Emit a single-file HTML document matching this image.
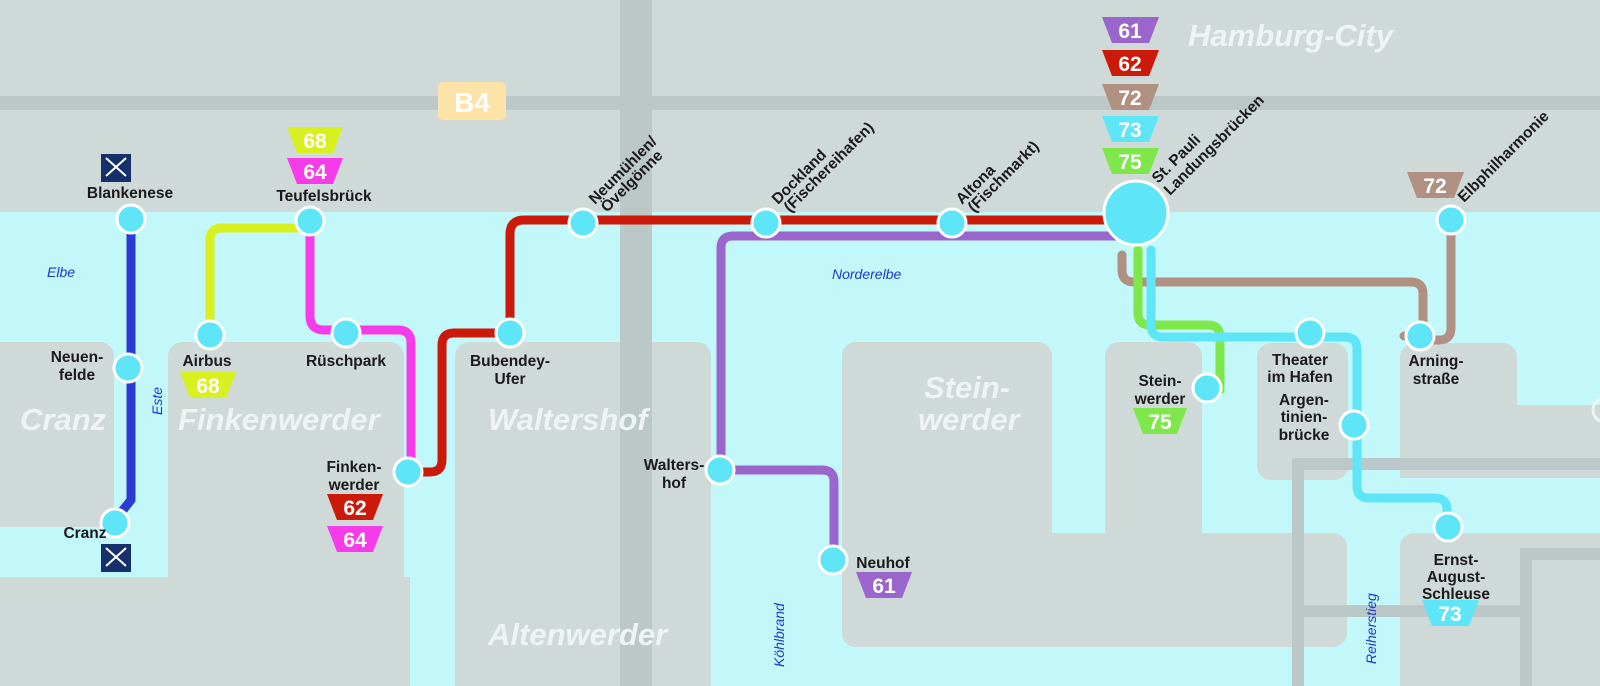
<!DOCTYPE html>
<html><head><meta charset="utf-8"><style>
html,body{margin:0;padding:0;width:1600px;height:686px;overflow:hidden;background:#cfd9d8}
svg{display:block;position:absolute;left:0;top:0}
.st{font:bold 15.5px "Liberation Sans",sans-serif;fill:#1a1a1a}
.pl{font:bold italic 31px "Liberation Sans",sans-serif;fill:#eef3f3}
.wl{font:italic 14px "Liberation Sans",sans-serif;fill:#1a3acc}
.bd{font:bold 21px "Liberation Sans",sans-serif;fill:#fff}
</style></head><body>
<svg width="1600" height="686" viewBox="0 0 1600 686" xmlns="http://www.w3.org/2000/svg">
<rect x="0" y="212" width="1600" height="474" fill="#c2f8fa"/>
<g fill="#cfd9d8">
<rect x="-20" y="342" width="134" height="185" rx="14"/>
<rect x="168" y="342" width="236" height="400" rx="14"/>
<rect x="-20" y="577" width="430" height="120"/>
<rect x="455" y="342" width="256" height="400" rx="14"/>
<rect x="842" y="342" width="210" height="305" rx="14"/>
<rect x="842" y="533" width="505" height="114" rx="14"/>
<rect x="1105" y="342" width="97" height="210" rx="14"/>
<rect x="1257" y="343" width="91" height="137" rx="14"/>
<rect x="1400" y="343" width="117" height="135" rx="14"/>
<rect x="1400" y="405" width="220" height="73"/>
<rect x="1400" y="533" width="220" height="170" rx="14"/>
</g>
<g fill="#bcc8c7">
<rect x="0" y="96" width="1600" height="14"/>
<rect x="620" y="0" width="32" height="686"/>
<rect x="1292" y="458" width="12" height="228"/>
<rect x="1292" y="458" width="308" height="12"/>
<rect x="1303" y="605" width="217" height="12"/>
<rect x="1520" y="548" width="12" height="138"/>
<rect x="1520" y="548" width="80" height="12"/>
</g>
<circle cx="1605" cy="410" r="12" fill="none" stroke="#eef3f3" stroke-width="3"/>
<rect x="438" y="82" width="68" height="38" rx="5" fill="#fde3a8"/>
<text x="472" y="112" text-anchor="middle" font-family="Liberation Sans" font-weight="bold" font-size="28" fill="#fff">B4</text>
<text class="pl" x="20" y="430">Cranz</text>
<text class="pl" x="178" y="430">Finkenwerder</text>
<text class="pl" x="488" y="430">Waltershof</text>
<text class="pl" x="924" y="398">Stein-</text>
<text class="pl" x="918" y="430">werder</text>
<text class="pl" x="488" y="645">Altenwerder</text>
<text class="pl" x="1188" y="46" font-size="28">Hamburg-City</text>
<text class="wl" x="47" y="277">Elbe</text>
<text class="wl" x="162" y="415" transform="rotate(-90 162 415)">Este</text>
<text class="wl" x="832" y="279">Norderelbe</text>
<text class="wl" x="784" y="667" transform="rotate(-90 784 667)">Köhlbrand</text>
<text class="wl" x="1376" y="664" transform="rotate(-90 1376 664)">Reiherstieg</text>
<g fill="none" stroke-width="9" stroke-linejoin="round" stroke-linecap="round">
<path d="M131 218 V500 L115 520" stroke="#2a3bd6"/>
<path d="M307 228 H222 Q210 228 210 240 V335" stroke="#d8f020"/>
<path d="M310 220 V316 Q310 330 324 330 H398 Q411 330 411 343 V472" stroke="#f53ce8"/>
<path d="M411 472 H430 Q442 472 442 460 V345 Q442 333 454 333 H510 V234 Q510 220 524 220 H1120" stroke="#cc1a0a"/>
<path d="M1120 236 H733 Q721 236 721 248 V470 H822 Q834 470 834 482 V558" stroke="#9a66cc"/>
<path d="M1122 255 V270 Q1122 282 1134 282 H1411 Q1423 282 1423 294 V326 Q1423 336 1412 336 H1404" stroke="#b09080"/>
<path d="M1451 220 V328 Q1451 340 1439 340 H1421" stroke="#b09080"/>
<path d="M1138 250 V313 Q1138 325 1150 325 H1208 Q1220 325 1220 337 V390" stroke="#7ee84a"/>
<path d="M1151 250 V325 Q1151 337 1163 337 H1345 Q1357 337 1357 349 V486 Q1357 498 1369 498 H1435 Q1447 498 1447 510 V528" stroke="#5ee6f8"/>
</g>
<g fill="#5fe5f8" stroke="#fff" stroke-width="3">
<circle cx="131" cy="219" r="14"/><circle cx="128" cy="368" r="14"/><circle cx="115" cy="523" r="14"/>
<circle cx="310" cy="221" r="14"/><circle cx="210" cy="335" r="14"/><circle cx="346" cy="333" r="14"/>
<circle cx="408" cy="472" r="14"/><circle cx="510" cy="333" r="14"/>
<circle cx="583" cy="223" r="14"/><circle cx="766" cy="223" r="14"/><circle cx="952" cy="223" r="14"/>
<circle cx="720" cy="470" r="14"/><circle cx="833" cy="560" r="14"/>
<circle cx="1207" cy="388" r="14"/><circle cx="1310" cy="333" r="14"/><circle cx="1354" cy="425" r="14"/>
<circle cx="1420" cy="336" r="14"/><circle cx="1451" cy="220" r="14"/><circle cx="1448" cy="527" r="14"/>
<circle cx="1136" cy="213" r="32"/>
</g>
<g>
<path d="M287 127 h56 l-10 26 h-36 z" fill="#d8f020"/><text class="bd" x="315" y="148" text-anchor="middle">68</text>
<path d="M287 158 h56 l-10 26 h-36 z" fill="#f53ce8"/><text class="bd" x="315" y="179" text-anchor="middle">64</text>
<path d="M180 372 h56 l-10 26 h-36 z" fill="#d8f020"/><text class="bd" x="208" y="393" text-anchor="middle">68</text>
<path d="M327 494 h56 l-10 26 h-36 z" fill="#cc1a0a"/><text class="bd" x="355" y="515" text-anchor="middle">62</text>
<path d="M327 526 h56 l-10 26 h-36 z" fill="#f53ce8"/><text class="bd" x="355" y="547" text-anchor="middle">64</text>
<path d="M856 572 h56 l-10 26 h-36 z" fill="#9a66cc"/><text class="bd" x="884" y="593" text-anchor="middle">61</text>
<path d="M1102 17 h57 l-10 26 h-37 z" fill="#9a66cc"/><text class="bd" x="1130" y="38" text-anchor="middle">61</text>
<path d="M1102 50 h57 l-10 26 h-37 z" fill="#cc1a0a"/><text class="bd" x="1130" y="71" text-anchor="middle">62</text>
<path d="M1102 84 h57 l-10 26 h-37 z" fill="#b09080"/><text class="bd" x="1130" y="105" text-anchor="middle">72</text>
<path d="M1102 116 h57 l-10 26 h-37 z" fill="#5ee6f8"/><text class="bd" x="1130" y="137" text-anchor="middle">73</text>
<path d="M1102 148 h57 l-10 26 h-37 z" fill="#7ee84a"/><text class="bd" x="1130" y="169" text-anchor="middle">75</text>
<path d="M1133 408 h54 l-10 26 h-34 z" fill="#7ee84a"/><text class="bd" x="1160" y="429" text-anchor="middle">75</text>
<path d="M1407 172 h57 l-10 26 h-37 z" fill="#b09080"/><text class="bd" x="1435" y="193" text-anchor="middle">72</text>
<path d="M1422 600 h57 l-10 26 h-37 z" fill="#5ee6f8"/><text class="bd" x="1450" y="621" text-anchor="middle">73</text>
</g>
<g>
<rect x="101" y="154" width="30" height="28" fill="#15306a"/>
<path d="M106 176 L126 158 M126 176 L106 158" stroke="#fff" stroke-width="2"/>
<rect x="101" y="544" width="30" height="28" fill="#15306a"/>
<path d="M106 566 L126 548 M126 566 L106 548" stroke="#fff" stroke-width="2"/>
</g>
<text class="st" x="130" y="198" text-anchor="middle">Blankenese</text>
<text class="st" x="77" y="362" text-anchor="middle">Neuen-</text><text class="st" x="77" y="380" text-anchor="middle">felde</text>
<text class="st" x="85" y="538" text-anchor="middle">Cranz</text>
<text class="st" x="324" y="201" text-anchor="middle">Teufelsbrück</text>
<text class="st" x="207" y="366" text-anchor="middle">Airbus</text>
<text class="st" x="346" y="366" text-anchor="middle">Rüschpark</text>
<text class="st" x="354" y="472" text-anchor="middle">Finken-</text><text class="st" x="354" y="490" text-anchor="middle">werder</text>
<text class="st" x="510" y="366" text-anchor="middle">Bubendey-</text><text class="st" x="510" y="384" text-anchor="middle">Ufer</text>
<text class="st" x="674" y="470" text-anchor="middle">Walters-</text><text class="st" x="674" y="488" text-anchor="middle">hof</text>
<text class="st" x="883" y="568" text-anchor="middle">Neuhof</text>
<text class="st" x="1160" y="386" text-anchor="middle">Stein-</text><text class="st" x="1160" y="404" text-anchor="middle">werder</text>
<text class="st" x="1300" y="365" text-anchor="middle">Theater</text><text class="st" x="1300" y="382" text-anchor="middle">im Hafen</text>
<text class="st" x="1304" y="405" text-anchor="middle">Argen-</text><text class="st" x="1304" y="422" text-anchor="middle">tinien-</text><text class="st" x="1304" y="440" text-anchor="middle">brücke</text>
<text class="st" x="1436" y="366" text-anchor="middle">Arning-</text><text class="st" x="1436" y="384" text-anchor="middle">straße</text>
<text class="st" x="1456" y="565" text-anchor="middle">Ernst-</text><text class="st" x="1456" y="582" text-anchor="middle">August-</text><text class="st" x="1456" y="599" text-anchor="middle">Schleuse</text>
<g class="st">
<text transform="translate(595 205) rotate(-45)">Neumühlen/</text>
<text transform="translate(607 213) rotate(-45)">Övelgönne</text>
<text transform="translate(778 205) rotate(-45)">Dockland</text>
<text transform="translate(790 213) rotate(-45)">(Fischereihafen)</text>
<text transform="translate(962 205) rotate(-45)">Altona</text>
<text transform="translate(974 213) rotate(-45)">(Fischmarkt)</text>
<text transform="translate(1158 184) rotate(-45)">St. Pauli</text>
<text transform="translate(1170 196) rotate(-45)">Landungsbrücken</text>
<text transform="translate(1464 203) rotate(-45)">Elbphilharmonie</text>
</g>
</svg>
</body></html>
